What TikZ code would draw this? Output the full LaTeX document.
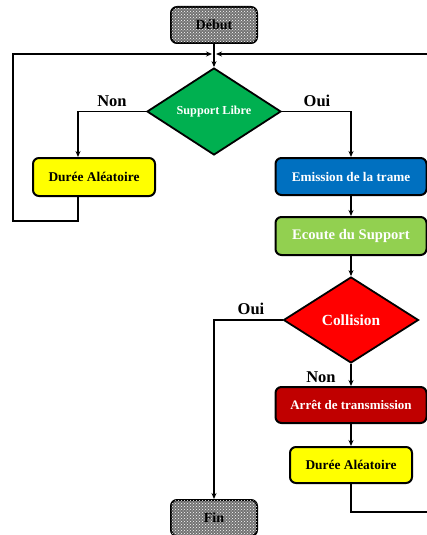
\documentclass[tikz,border=0pt]{standalone}
\usepackage{fontspec}
\setmainfont{Liberation Serif}
\usetikzlibrary{shapes.geometric,patterns,arrows.meta}
\definecolor{cgreen}{HTML}{00B050}
\definecolor{cblue}{HTML}{0070C0}
\definecolor{clgreen}{HTML}{92D050}
\definecolor{cred}{HTML}{FF0000}
\definecolor{cdred}{HTML}{C00000}
\definecolor{cyellow}{HTML}{FFFF00}
\newcommand{\fs}[1]{\fontsize{#1}{#1}\selectfont\bfseries}
\tikzset{
  box/.style={draw=black, line width=2pt, rounded corners=6pt, inner sep=0pt},
  term/.style={box, fill=black!55, postaction={pattern=crosshatch dots, pattern color=white},
               minimum width=86pt, minimum height=36pt},
  dec/.style={diamond, draw=black, line width=1.8pt, inner sep=0pt, text=white},
  lbl/.style={font=\fs{16.5}},
  conn/.style={line width=1.6pt, -{Stealth[length=6pt,width=5pt]}},
}
\begin{document}
\begin{tikzpicture}[x=1pt,y=-1pt]
\useasboundingbox (0,0) rectangle (427,535);
\clip (0,0) rectangle (427,535);
\node[term, font=\fs{14}] (debut) at (214,25) {Début};
\node[dec, fill=cgreen, minimum width=134pt, minimum height=87pt, font=\fs{12.2}] (sl) at (214,111.5) {Support Libre};
\node[lbl] (non1) at (112,101) {Non};
\node[lbl] (oui1) at (317,101) {Oui};
\node[box, fill=cyellow, minimum width=122pt, minimum height=38pt, font=\fs{13.4}] (d1) at (94,177) {Durée Aléatoire};
\node[box, fill=cblue, text=white, minimum width=151pt, minimum height=37pt, font=\fs{13.2}] (em) at (351,176.5) {Emission de la trame};
\node[box, fill=clgreen, text=white, minimum width=151pt, minimum height=38pt, font=\fs{14.6}] (ec) at (351,236) {Ecoute du Support};
\node[dec, fill=cred, minimum width=135pt, minimum height=86pt, font=\fs{15.4}] (col) at (351,320) {Collision};
\node[lbl] (oui2) at (251,309) {Oui};
\node[lbl] (non2) at (321,377) {Non};
\node[box, fill=cdred, text=white, minimum width=151pt, minimum height=36pt, font=\fs{13}] (ar) at (351,405) {Arrêt de transmission};
\node[box, fill=cyellow, minimum width=122pt, minimum height=36pt, font=\fs{13.4}] (d2) at (351,465) {Durée Aléatoire};
\node[term, font=\fs{14}] (fin) at (214,518) {Fin};
\coordinate (jl) at (212,54);
\coordinate (jr) at (216,54);
\coordinate (lft) at (13,54);
\coordinate (rt) at (440,54);
\draw[conn] (debut) -- (sl);
\draw[conn] (sl.west) -| ([xshift=-16pt]d1.north);
\draw[conn] ([xshift=-16pt]d1.south) -- ++(0,24) -| (lft) -- (jl);
\draw[conn] (sl.east) -| (em.north);
\draw[conn] (em) -- (ec);
\draw[conn] (ec) -- (col);
\draw[conn] (col) -- (ar);
\draw[conn] (ar) -- (d2);
\draw[conn] (col.west) -| (fin.north);
\draw[conn] (d2.south) -- ++(0,28) -| (rt) -- (jr);
\end{tikzpicture}
\end{document}
